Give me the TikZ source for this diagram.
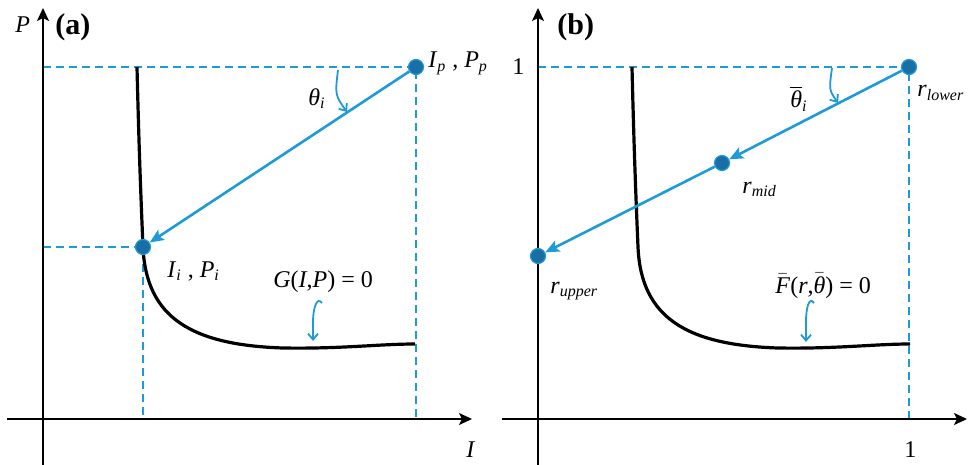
\documentclass[tikz,border=0pt]{standalone}
\usepackage{amsmath}
\usepackage{fontspec}
\setmainfont{Liberation Serif}
\usetikzlibrary{arrows.meta}
\definecolor{lineblue}{RGB}{30,155,215}
\definecolor{dotblue}{RGB}{25,110,165}
\tikzset{>=Stealth}

\begin{document}
\begin{tikzpicture}[
    x=0.5pt, y=-0.5pt,
    axis/.style={line width=0.9pt, -{Stealth[length=6.5pt,width=6pt,inset=1.5pt]}},
    guide/.style={lineblue, line width=0.75pt, dash pattern=on 4pt off 2.5pt},
    locus/.style={line width=1.6pt},
    dot/.style={circle, fill=dotblue, draw=lineblue, line width=0.6pt, minimum size=7.5pt, inner sep=0pt},
    search/.style={lineblue, line width=1.3pt, -{Stealth[length=7pt,width=6pt,inset=1.5pt]}},
    hint/.style={lineblue, line width=0.9pt, -{Straight Barb[length=3pt,width=5pt]}},
    lbl/.style={anchor=base west, inner sep=0pt, font=\fontsize{12}{14}\selectfont},
    tag/.style={anchor=base west, inner sep=0pt, font=\fontsize{15}{18}\selectfont\bfseries},
  ]
    \useasboundingbox (0,0) rectangle (974,465);

    % (a) physical plane
    \coordinate (aTop) at (43,67);
    \coordinate (aMid) at (43,247);
    \coordinate (pIp) at (416,67);
    \coordinate (pIi) at (143,247);
    \coordinate (aIpFoot) at (416,419);
    \coordinate (aIiFoot) at (143,419);
    \draw[guide] (aTop) -- (pIp) -- (aIpFoot);
    \draw[guide] (aMid) -- (pIi) -- (aIiFoot);
    \draw[axis] (43,465) -- (43,8);
    \draw[axis] (7,419) -- (472,419);
    \draw[locus] (137,67) .. controls (139,150) and (141,200) .. (143,247)
      .. controls (146,318) and (192,345) .. (283,348)
      .. controls (340,349) and (380,344) .. (415,344);
    \node[dot] (Ip) at (pIp) {};
    \node[dot] (Ii) at (pIi) {};
    \draw[search] (Ip) -- (Ii);
    \coordinate (aAngS) at (338,70);
    \coordinate (aAngE) at (347,112);
    \draw[hint] (aAngS) .. controls (335,95) .. (aAngE);
    \coordinate (aHintS) at (322,303);
    \coordinate (aHintE) at (313,341);
    \draw[hint] (aHintS) .. controls (317,296) and (313,308) .. (313,322) -- (aHintE);
    \node[tag] (taga) at (55,35) {(a)};
    \node[lbl] (Plab) at (15,33) {\textit{P}};
    \node[lbl] (Ilab) at (466,457) {\textit{I}};
    \node[lbl] (Iplab) at (428,68) {\textit{I}$_{\textit{p}}$ , \textit{P}$_{\textit{p}}$};
    \node[lbl] (Iilab) at (167,277) {\textit{I}$_{\textit{i}}$ , \textit{P}$_{\textit{i}}$};
    \node[lbl] (thlab) at (308,105) {\textit{θ}$_{\textit{i}}$};
    \node[lbl] (Glab) at (273,287) {\textit{G}(\textit{I},\textit{P}) = 0};

    % (b) normalised plane
    \coordinate (bTop) at (538,67);
    \coordinate (prl) at (909,67);
    \coordinate (bFoot) at (909,419);
    \draw[guide] (bTop) -- (prl) -- (bFoot);
    \draw[axis] (538,465) -- (538,8);
    \draw[axis] (502,419) -- (967,419);
    \begin{scope}[shift={(495,0)}]
      \draw[locus] (137,67) .. controls (139,150) and (141,200) .. (143,247)
        .. controls (146,318) and (192,345) .. (283,348)
        .. controls (340,349) and (380,344) .. (415,344);
    \end{scope}
    \node[dot] (rl) at (prl) {};
    \node[dot] (rm) at (722,163) {};
    \node[dot] (ru) at (538,256) {};
    \draw[search] (rl) -- (rm);
    \draw[search] (rm) -- (ru);
    \coordinate (bAngS) at (832,68);
    \coordinate (bAngE) at (838,103);
    \draw[hint] (bAngS) .. controls (829,90) .. (bAngE);
    \coordinate (bHintS) at (814,303);
    \coordinate (bHintE) at (806,342);
    \draw[hint] (bHintS) .. controls (809,296) and (806,308) .. (806,322) -- (bHintE);
    \node[tag] (tagb) at (557,35) {(b)};
    \node[lbl] (oneY) at (512,75) {1};
    \node[lbl] (oneX) at (904,457) {1};
    \node[lbl] (rllab) at (917,97) {\textit{r}$_{\textit{lower}}$};
    \node[lbl] (rmlab) at (742,193) {\textit{r}$_{\textit{mid}}$};
    \node[lbl] (rulab) at (550,293) {\textit{r}$_{\textit{upper}}$};
    \node[lbl] (thblab) at (790,108) {$\overline{\mbox{\textit{θ}}}$$_{\textit{i}}$};
    \node[lbl] (Flab) at (775,293) {$\bar{\mbox{\textit{F}}}$(\textit{r},$\bar{\mbox{\textit{θ}}}$) = 0};
\end{tikzpicture}
\end{document}
